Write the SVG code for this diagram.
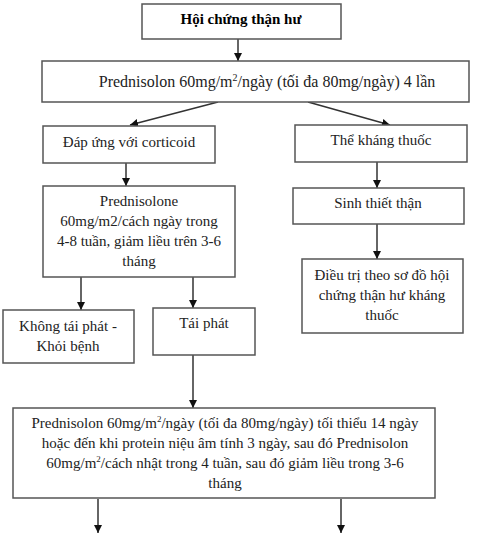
<svg xmlns="http://www.w3.org/2000/svg" width="488" height="539" viewBox="0 0 488 539">
<defs>
<marker id="ah" viewBox="0 0 10 10" refX="10" refY="5" markerWidth="8" markerHeight="8" markerUnits="userSpaceOnUse" orient="auto">
<path d="M0,0 L10,5 L0,10 z" fill="#111"/>
</marker>
</defs>
<style>
rect{fill:#fff;stroke:#555;stroke-width:1.5}
text{font-family:"Liberation Serif","Times New Roman",serif;font-size:15px;fill:#222;text-anchor:middle}
.b{font-weight:bold;fill:#000}
.l{font-size:16px}
#connectors line{stroke:#333;stroke-width:1.5;marker-end:url(#ah)}
</style>
<rect x="0" y="0" width="488" height="539" style="fill:#fff;stroke:none"/>
<g id="connectors">
<line x1="238" y1="39" x2="238" y2="61"/>
<line x1="218" y1="102" x2="130" y2="125"/>
<line x1="308" y1="102" x2="390" y2="125"/>
<line x1="126" y1="163" x2="126" y2="186"/>
<line x1="81" y1="277" x2="81" y2="310"/>
<line x1="193" y1="277" x2="193" y2="308"/>
<line x1="377" y1="162" x2="377" y2="188"/>
<line x1="377" y1="224" x2="377" y2="259"/>
<line x1="193" y1="355" x2="193" y2="408"/>
<line x1="98" y1="499" x2="98" y2="533"/>
<line x1="341" y1="499" x2="341" y2="533"/>
</g>
<g id="n1">
<rect x="142" y="4" width="199" height="35"/>
<text x="241" y="24" class="b">Hội chứng thận hư</text>
</g>
<g id="n2">
<rect x="42" y="61" width="427" height="41"/>
<text x="267" y="87" class="l">Prednisolon 60mg/m<tspan font-size="10" dy="-6">2</tspan><tspan dy="6">/ngày (tối đa 80mg/ngày) 4 lần</tspan></text>
</g>
<g id="n3">
<rect x="43" y="126" width="172" height="37"/>
<text x="129" y="147">Đáp ứng với corticoid</text>
</g>
<g id="n4">
<rect x="295" y="125" width="172" height="37"/>
<text x="381" y="145">Thể kháng thuốc</text>
</g>
<g id="n5">
<rect x="43" y="186" width="192" height="91"/>
<text x="139" y="206">Prednisolone</text>
<text x="139" y="226">60mg/m2/cách ngày trong</text>
<text x="139" y="246">4-8 tuần, giảm liều trên 3-6</text>
<text x="139" y="266">tháng</text>
</g>
<g id="n6">
<rect x="293" y="188" width="171" height="36"/>
<text x="378" y="208">Sinh thiết thận</text>
</g>
<g id="n7">
<rect x="302" y="259" width="161" height="74"/>
<text x="382" y="280">Điều trị theo sơ đồ hội</text>
<text x="382" y="300">chứng thận hư kháng</text>
<text x="382" y="320">thuốc</text>
</g>
<g id="n8">
<rect x="3" y="310" width="131" height="53"/>
<text x="68" y="331">Không tái phát -</text>
<text x="68" y="351">Khỏi bệnh</text>
</g>
<g id="n9">
<rect x="153" y="308" width="102" height="47"/>
<text x="204" y="328">Tái phát</text>
</g>
<g id="n10">
<rect x="13" y="408" width="422" height="90"/>
<text x="225" y="428">Prednisolon 60mg/m<tspan font-size="9" dy="-6">2</tspan><tspan dy="6">/ngày (tối đa 80mg/ngày) tối thiểu 14 ngày</tspan></text>
<text x="225" y="448">hoặc đến khi protein niệu âm tính 3 ngày, sau đó Prednisolon</text>
<text x="225" y="468">60mg/m<tspan font-size="9" dy="-6">2</tspan><tspan dy="6">/cách nhật trong 4 tuần, sau đó giảm liều trong 3-6</tspan></text>
<text x="225" y="488">tháng</text>
</g>
</svg>
